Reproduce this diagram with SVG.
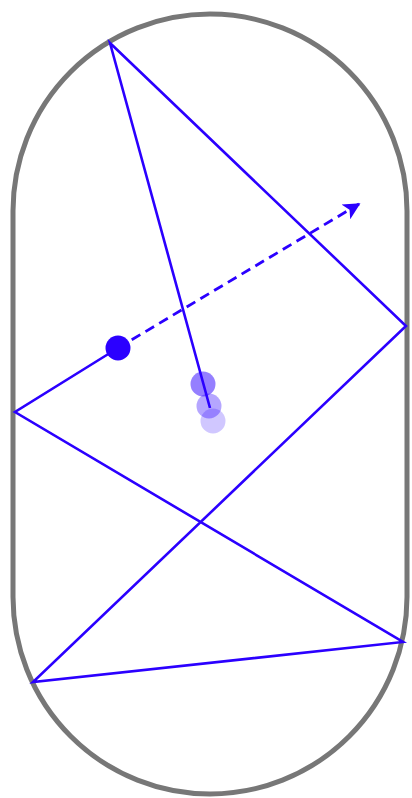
<svg xmlns="http://www.w3.org/2000/svg" width="412" height="798" viewBox="0 0 412 798">
<style>
.wall{fill:none;stroke:#777;stroke-width:5}
.path{fill:none;stroke:#2b00ff;stroke-width:2.6;stroke-linejoin:miter}
.dash{fill:none;stroke:#2b00ff;stroke-width:2.8;stroke-dasharray:10 6}
.ball{fill:#2b00ff}
</style>
<defs>
<marker id="ah" viewBox="0 0 10 10" refX="9" refY="5" markerWidth="22" markerHeight="17" markerUnits="userSpaceOnUse" orient="auto">
<path d="M0,0 L10,5 L0,10 L2.5,5 Z" fill="#2b00ff"/>
</marker>
</defs>
<g id="stadium">
<path class="wall" d="M13,211 A197,197 0 0 1 407,211 L407,597 A197,197 0 0 1 13,597 Z"/>
</g>
<g id="connectors">
<polyline class="path" points="210,408 110,43 406,326 33,682 403,642 15,412 118,348"/>
<line class="dash" x1="118" y1="348" x2="359" y2="204" marker-end="url(#ah)"/>
</g>
<g id="ghosts">
<circle class="ball" cx="213" cy="421" r="12.5" opacity="0.22"/>
<circle class="ball" cx="209" cy="406" r="12.5" opacity="0.35"/>
<circle class="ball" cx="203" cy="384" r="12.5" opacity="0.5"/>
</g>
<g id="ball">
<circle class="ball" cx="118" cy="348" r="12.5"/>
</g>
</svg>
